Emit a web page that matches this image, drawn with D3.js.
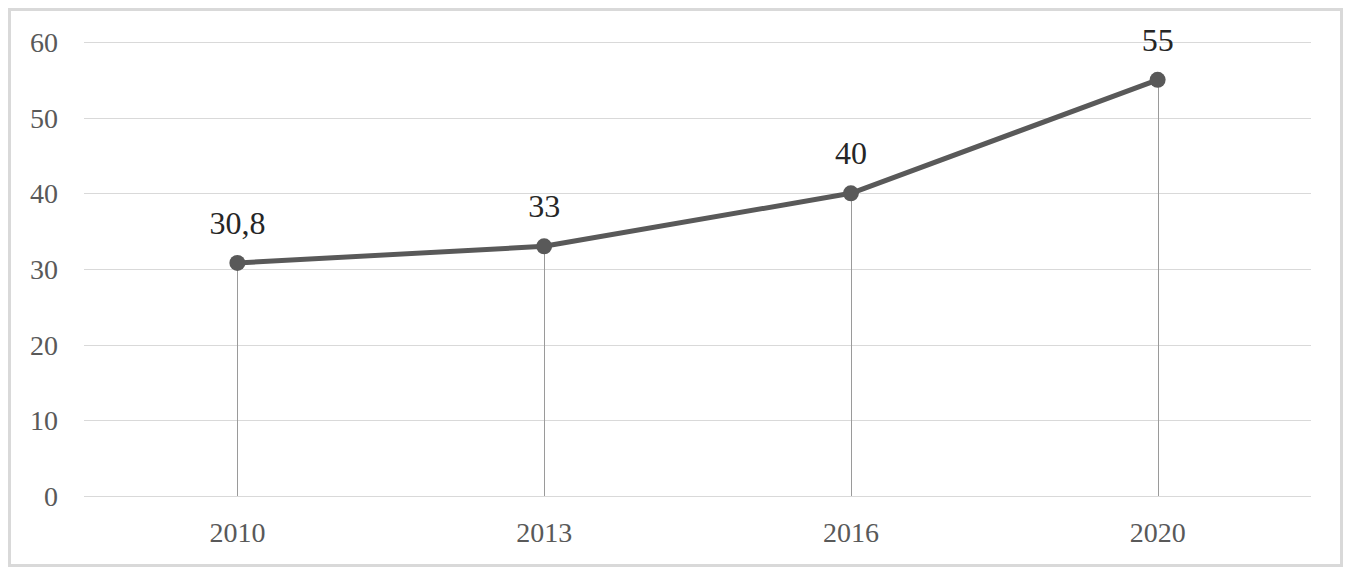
<!DOCTYPE html>
<html><head><meta charset="utf-8">
<script src="https://cdn.jsdelivr.net/npm/d3@7"></script>
<style>html,body{margin:0;padding:0;background:#fff;} text{font-family:"Liberation Serif","Times New Roman",serif;}</style>
</head><body>
<svg id="chart" width="1348" height="572"></svg>
<script>
const categories = ["2010", "2013", "2016", "2020"];
const values = [30.8, 33, 40, 55];
const valueLabels = ["30,8", "33", "40", "55"];
const yTicks = [0, 10, 20, 30, 40, 50, 60];

const svg = d3.select("#chart");
const m = {left: 84, right: 1311, top: 42, bottom: 496};
const font = "Liberation Serif, Times New Roman, serif";

svg.append("rect").attr("x", 9.5).attr("y", 9.5).attr("width", 1332).attr("height", 556)
  .attr("fill", "#fff").attr("stroke", "#d9d9d9").attr("stroke-width", 3);

const x = d3.scaleBand().domain(categories).range([m.left, m.right]);
const y = d3.scaleLinear().domain([0, 60]).range([m.bottom, m.top]);

// gridlines
svg.append("g").selectAll("line").data(yTicks).join("line")
  .attr("x1", m.left).attr("x2", m.right)
  .attr("y1", d => Math.round(y(d)) + 0.5).attr("y2", d => Math.round(y(d)) + 0.5)
  .attr("stroke", "#d9d9d9").attr("stroke-width", 1);

// y labels
const yAxis = d3.axisLeft(y).tickValues(yTicks).tickSize(0).tickPadding(0);
const gy = svg.append("g").attr("transform", "translate(58,0)").call(yAxis);
gy.select(".domain").remove();
gy.selectAll("text").style("font-family", font).style("font-size", "28px").attr("fill", "#595959").attr("dy", "0.34em");

// x labels
const xAxis = d3.axisBottom(x).tickSize(0).tickPadding(0);
const gx = svg.append("g").attr("transform", "translate(0,542)").call(xAxis);
gx.select(".domain").remove();
gx.selectAll("text").style("font-family", font).style("font-size", "28px").attr("fill", "#595959").attr("y", 0).attr("dy", 0);

const cx = d => x(d) + x.bandwidth() / 2;
const data = categories.map((c, i) => ({c, v: values[i], l: valueLabels[i]}));

// drop lines
svg.append("g").selectAll("line").data(data).join("line")
  .attr("x1", d => Math.round(cx(d.c)) + 0.5).attr("x2", d => Math.round(cx(d.c)) + 0.5)
  .attr("y1", d => y(d.v)).attr("y2", m.bottom)
  .attr("stroke", "#9a9a9a").attr("stroke-width", 1);

// line
svg.append("path").datum(data)
  .attr("d", d3.line().x(d => cx(d.c)).y(d => y(d.v)))
  .attr("fill", "none").attr("stroke", "#595959").attr("stroke-width", 5)
  .attr("stroke-linejoin", "round");

svg.append("g").selectAll("circle").data(data).join("circle")
  .attr("cx", d => cx(d.c)).attr("cy", d => y(d.v)).attr("r", 8)
  .attr("fill", "#595959");

svg.append("g").selectAll("text").data(data).join("text")
  .attr("x", d => cx(d.c)).attr("y", d => y(d.v) - 29)
  .attr("text-anchor", "middle").style("font-family", font).style("font-size", "32px")
  .attr("fill", "#262626").text(d => d.l);
</script>
</body></html>
